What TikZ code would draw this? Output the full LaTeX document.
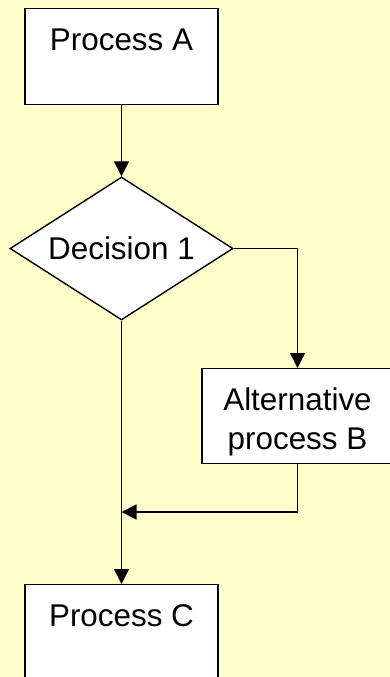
\documentclass[tikz,border=0pt]{standalone}
\usepackage{fontspec}
\setmainfont{Liberation Sans}
\usetikzlibrary{positioning,shapes,arrows.meta}
\definecolor{paleyellow}{RGB}{255,255,204}

\tikzset{
  process/.style={draw, fill=white, line width=1.4pt, inner sep=0pt, anchor=north,
    minimum width=193pt, text height=42pt, text depth=54pt, align=center},
  decision/.style={diamond, draw, fill=white, line width=1.4pt, inner sep=0pt,
    aspect=1.56, minimum width=223pt, minimum height=143pt},
  flow/.style={-{Triangle[width=15pt,length=15pt]}, line width=1.4pt}
}

\begin{document}
\begin{tikzpicture}[x=1pt, y=-1pt, font=\fontsize{31.4}{39}\selectfont]
  % Background
  \useasboundingbox (0,0) rectangle (390,677);
  \fill[paleyellow] (0,0) rectangle (390,677);

  % Define nodes
  \node[process] (processa) at (121.5,8) {Process A};
  \node[decision] (decision) at (121.5,248.5) {Decision 1};
  \node[process, minimum width=191pt, text height=81pt, text depth=14pt] (processb) at (297.5,368) {Alternative\\process B};
  \node[process] (processc) at (121.5,584) {Process C};
  \coordinate (merge) at (121.5,512);

  % Connect the nodes
  \draw[flow] (processa) -- (decision);
  \draw[flow] (decision.east) -| (processb.north);
  \draw[flow] (processb.south) |- (merge);
  \draw[flow] (decision.south) -- (processc.north);
\end{tikzpicture}
\end{document}
